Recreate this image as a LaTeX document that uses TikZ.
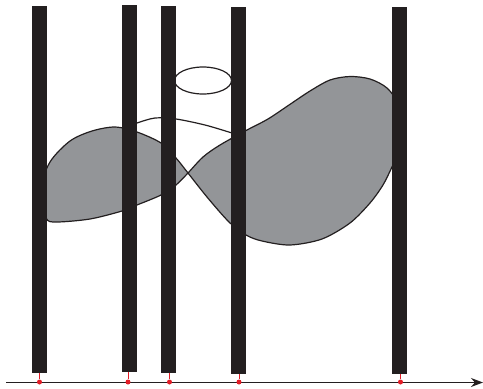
\documentclass[tikz,border=0pt]{standalone}
\usetikzlibrary{arrows.meta}
\definecolor{barblack}{RGB}{35,31,32}
\definecolor{lobegray}{RGB}{147,149,152}
\definecolor{pinred}{RGB}{228,28,38}
\begin{document}
\begin{tikzpicture}[x=1pt,y=-1pt,line width=1.2pt,
  slab/.style={fill=barblack,draw=none},
  lobe/.style={fill=lobegray,draw=barblack},
  pin/.style={circle,fill=pinred,inner sep=0pt,minimum size=5pt}]
\useasboundingbox (0,0) rectangle (483,389);
% the two lobes, one curve crossing itself
\draw[lobe] plot[smooth cycle] coordinates {(188,173) (203,157) (220,145) (247,130) (268,119) (289,105) (310,91) (330,80) (350,76.5) (370,79) (387,88) (399,105) (404,130) (399,152) (392,167) (383,185) (370,203) (350,223) (322,239) (290,245) (262,241) (246,235) (229,222) (207,197) (188,173) (176,158) (161,143) (137,132) (115,127) (92,131) (70,141) (50,162) (39,192) (46,218) (56,222) (90,219) (122,211) (137,205) (161,195) (176,185)};
\draw[barblack] plot[smooth] coordinates {(130,126) (137,123) (155,118) (176,119) (205,125) (232,133) (238,135)};
\draw[barblack] (203,80.5) ellipse (28.5 and 13.5);
% axis
\coordinate (o) at (6,382.5);
\coordinate (e) at (483,382.5);
\draw[barblack,line width=1.5pt,-{Stealth[length=12pt,width=9pt]}] (o) -- (e);
% bars and their feet
\foreach \a/\b/\t/\u/\p [count=\i] in {32/46.5/6/373/39.5,122/136.5/5/372/128,161/175.5/6/373/169.5,231/245.5/7/374/239,392/406.5/7/374/400.5}{
  \fill[slab] (\a,\t) rectangle (\b,\u);
  \coordinate (top\i) at (\p,\u);
  \node[pin] (dot\i) at (\p,382) {};
  \draw[pinred,line width=.9pt] (top\i) -- (dot\i);
}
\end{tikzpicture}
\end{document}
